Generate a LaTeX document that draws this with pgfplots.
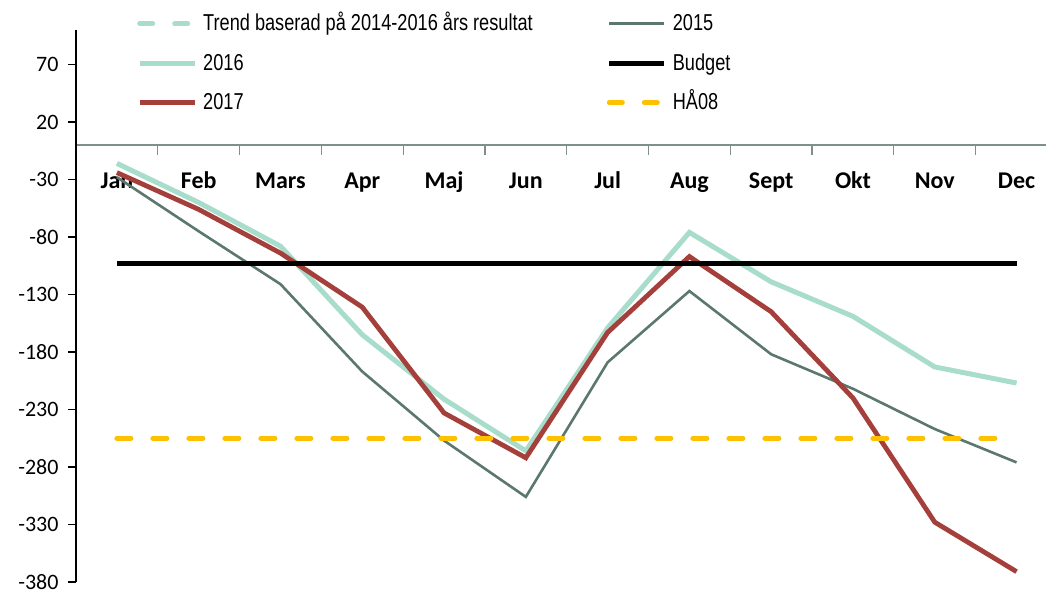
\documentclass[border=0pt]{standalone}
\usepackage{pgfplots}
\pgfplotsset{compat=1.18}
\usepackage{fontspec}
\setmainfont{Liberation Sans}
\newfontfamily\calfont{Carlito}
\newfontfamily\legfont[FakeStretch=0.79]{Liberation Sans}
\definecolor{c15}{HTML}{5B776E}
\definecolor{c16}{HTML}{A8DDCB}
\definecolor{c17}{HTML}{A43F3B}
\definecolor{cha}{HTML}{FFC000}
\definecolor{caxis}{HTML}{7F8F8A}

\pgfplotstableread{
x y15 y16 y17 bud ha
0 -28 -16 -24 -103 -255
1 -75 -50 -56 -103 -255
2 -121 -88 -94 -103 -255
3 -197 -165 -141 -103 -255
4 -257 -221 -233 -103 -255
5 -306 -266 -272 -103 -255
6 -189 -159 -163 -103 -255
7 -127 -76 -97 -103 -255
8 -182 -119 -145 -103 -255
9 -212 -149 -220 -103 -255
10 -247 -193 -328 -103 -255
11 -276 -207 -371 -103 -255
}\datatable

\begin{document}
\begin{tikzpicture}[x=1pt,y=1pt]
\useasboundingbox (0,0) rectangle (1046,589);
\begin{axis}[
  at={(76pt,7pt)}, anchor=south west,
  scale only axis, width=970pt, height=552pt,
  xmin=-0.5, xmax=11.36, ymin=-380, ymax=100,
  axis x line*=middle, axis y line*=left,
  x axis line style={caxis, line width=1.5pt},
  y axis line style={black, line width=1.2pt},
  tick align=outside,
  major tick length=8pt, minor tick length=10pt,
  xtick={0,...,11},
  xticklabels={Jan,Feb,Mars,Apr,Maj,Jun,Jul,Aug,Sept,Okt,Nov,Dec},
  minor xtick={0.5,1.5,...,10.5},
  major x tick style={draw=none},
  minor x tick style={caxis, line width=1.2pt},
  ytick={-380,-330,-280,-230,-180,-130,-80,-30,20,70},
  yticklabels={-380,-330,-280,-230,-180,-130,-80,-30,20,70},
  y tick style={black, line width=1.2pt},
  xticklabel style={font=\calfont\bfseries\fontsize{24}{24}\selectfont, anchor=base, yshift=-36pt},
  yticklabel style={font=\calfont\fontsize{22}{22}\selectfont, xshift=-6pt},
  legend columns=2,
  legend cell align=left,
  legend style={at={(axis description cs:0.0629,1.030)}, anchor=north west,
    draw=none, fill=none, inner sep=0pt, row sep=22.5pt,
    font=\legfont\fontsize{23}{23}\selectfont,
    nodes={inner sep=0pt, text height=17pt, text depth=0pt},
    /tikz/every odd column/.append style={column sep=6pt},
    /tikz/every even column/.append style={column sep=74pt}},
  legend image code/.code={\draw[#1] (2.5pt,-1.5pt) -- (57.5pt,-1.5pt);},
  clip=false,
]
\addlegendimage{c16, line width=5pt, line cap=round, dash pattern=on 13pt off 22pt}
\addlegendentry{Trend baserad på 2014-2016 års resultat}
\addlegendimage{c15, line width=2.6pt}
\addlegendentry{2015}
\addlegendimage{c16, line width=5pt}
\addlegendentry{2016}
\addlegendimage{black, line width=5pt}
\addlegendentry{Budget}
\addlegendimage{c17, line width=5pt}
\addlegendentry{2017}
\addlegendimage{cha, line width=5pt, line cap=round, dash pattern=on 13pt off 22pt}
\addlegendentry{HÅ08}

\addplot[c15, line width=2.6pt, forget plot] table[x=x, y=y15] {\datatable};
\addplot[c16, line width=5pt, forget plot] table[x=x, y=y16] {\datatable};
\addplot[c17, line width=4.8pt, forget plot] table[x=x, y=y17] {\datatable};
\addplot[black, line width=5pt, forget plot] table[x=x, y=bud] {\datatable};
\addplot[cha, line width=5pt, line cap=round, dash pattern=on 14pt off 22pt, forget plot] table[x=x, y=ha] {\datatable};
\end{axis}
\end{tikzpicture}
\end{document}
